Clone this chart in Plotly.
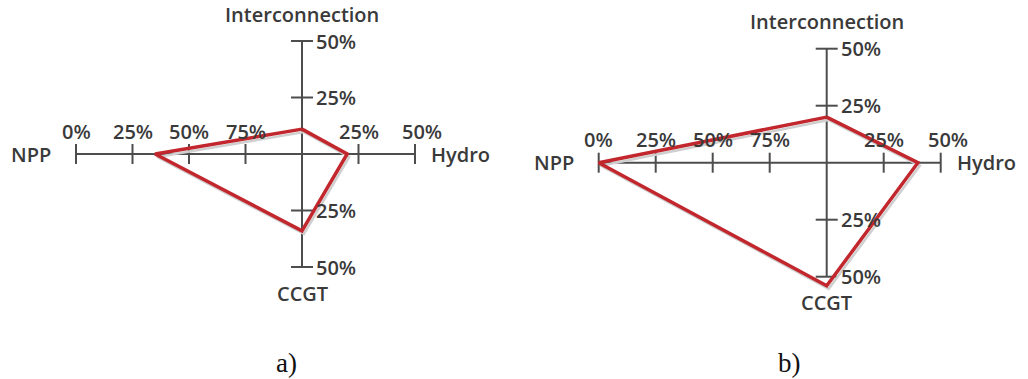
import plotly.graph_objects as go

# Shares per technology for the two scenarios
panels = ["a)", "b)"]
npp = [35, 0]
hydro = [20, 40]
interconnection = [11, 20]
ccgt = [34, 54]

# Tick labels along each arm
npp_ticks = [0, 25, 50, 75]
hydro_ticks = [25, 50]
vert_ticks = [25, 50]

W, H = 1028, 379
# pixel centre and pixels-per-percent for each panel
centres = [(302, 154, 2.26), (826.7, 162.7, 2.28)]
bounds = [(0, 514), (514, 1028)]

AXIS_C = "#4d4d4d"
TEXT_C = "#3a3a3a"
RED = "#c1272d"
SHADOW = "#cfcfcf"
FONT = dict(family="Open Sans", size=20, color=TEXT_C, weight=600)

fig = go.Figure()
layout = dict(width=W, height=H, margin=dict(l=0, r=0, t=0, b=0),
              paper_bgcolor="white", plot_bgcolor="white", showlegend=False)
annotations = []


def npp_x(v):
    # NPP arm: 0% at the far left, 100% at the centre
    return v - 100


def label(**kw):
    base = dict(showarrow=False, borderpad=0, font=FONT)
    base.update(kw)
    return base


for i, name in enumerate(panels):
    cx, cy, s = centres[i]
    px0, px1 = bounds[i]
    xa = "xaxis" if i == 0 else f"xaxis{i+1}"
    ya = "yaxis" if i == 0 else f"yaxis{i+1}"
    xr = "x" if i == 0 else f"x{i+1}"
    yr = "y" if i == 0 else f"y{i+1}"
    layout[xa] = dict(domain=[px0 / W, px1 / W], range=[(px0 - cx) / s, (px1 - cx) / s],
                      visible=False, anchor=yr)
    layout[ya] = dict(domain=[0, 1], range=[(cy - H) / s, cy / s],
                      visible=False, anchor=xr)

    # cross-shaped axes
    fig.add_trace(go.Scatter(x=[npp_x(0), hydro_ticks[-1]], y=[0, 0], mode="lines",
                             line=dict(color=AXIS_C, width=2), xaxis=xr, yaxis=yr, hoverinfo="skip"))
    fig.add_trace(go.Scatter(x=[0, 0], y=[-vert_ticks[-1], vert_ticks[-1]], mode="lines",
                             line=dict(color=AXIS_C, width=2), xaxis=xr, yaxis=yr, hoverinfo="skip"))
    # tick marks
    tx, ty = [], []
    hx = [npp_x(t) for t in npp_ticks] + hydro_ticks
    for x in hx:
        tx += [x, x, None]
        ty += [-10 / s, 10 / s, None]
    for v in vert_ticks:
        for y in (v, -v):
            tx += [-11 / s, 11 / s, None]
            ty += [y, y, None]
    fig.add_trace(go.Scatter(x=tx, y=ty, mode="lines", line=dict(color=AXIS_C, width=2),
                             xaxis=xr, yaxis=yr, hoverinfo="skip"))

    # data polygon with a soft drop shadow
    px = [0, hydro[i], 0, npp_x(npp[i]), 0]
    py = [interconnection[i], 0, -ccgt[i], 0, interconnection[i]]
    dx, dy = 2 / s, -3 / s
    fig.add_trace(go.Scatter(x=[v + dx for v in px], y=[v + dy for v in py], mode="lines",
                             line=dict(color=SHADOW, width=2.5), xaxis=xr, yaxis=yr, hoverinfo="skip"))
    fig.add_trace(go.Scatter(x=px, y=py, mode="lines", line=dict(color=RED, width=3.5),
                             xaxis=xr, yaxis=yr, hoverinfo="skip"))

    # tick labels
    for t in npp_ticks:
        annotations.append(label(x=npp_x(t), y=0, xref=xr, yref=yr, text=f"{t}%",
                                 xanchor="center", yanchor="middle", yshift=23))
    for t in hydro_ticks:
        annotations.append(label(x=t, y=0, xref=xr, yref=yr, text=f"{t}%",
                                 xanchor="center", yanchor="middle", yshift=23,
                                 xshift=7 if t == hydro_ticks[-1] else 0))
    for v in vert_ticks:
        for y in (v, -v):
            annotations.append(label(x=0, y=y, xref=xr, yref=yr, text=f"{v}%",
                                     xanchor="left", yanchor="middle", xshift=13))

    # arm titles
    annotations += [
        label(x=0, y=vert_ticks[-1], xref=xr, yref=yr, text="Interconnection",
              xanchor="center", yanchor="middle", yshift=27),
        label(x=0, y=-vert_ticks[-1], xref=xr, yref=yr, text="CCGT",
              xanchor="center", yanchor="middle", yshift=-26),
        label(x=npp_x(0), y=0, xref=xr, yref=yr, text="NPP",
              xanchor="right", yanchor="middle", xshift=-24),
        label(x=hydro_ticks[-1], y=0, xref=xr, yref=yr, text="Hydro",
              xanchor="left", yanchor="middle", xshift=15),
    ]

# panel captions
for name, xc in zip(panels, [286, 789]):
    annotations.append(dict(x=xc / W, y=(H - 363) / H, xref="paper", yref="paper", text=name,
                            showarrow=False, xanchor="center", yanchor="middle", borderpad=0,
                            font=dict(family="Liberation Serif", size=27, color="#111111")))

layout["annotations"] = annotations
fig.update_layout(**layout)
fig.write_html("out.html")
